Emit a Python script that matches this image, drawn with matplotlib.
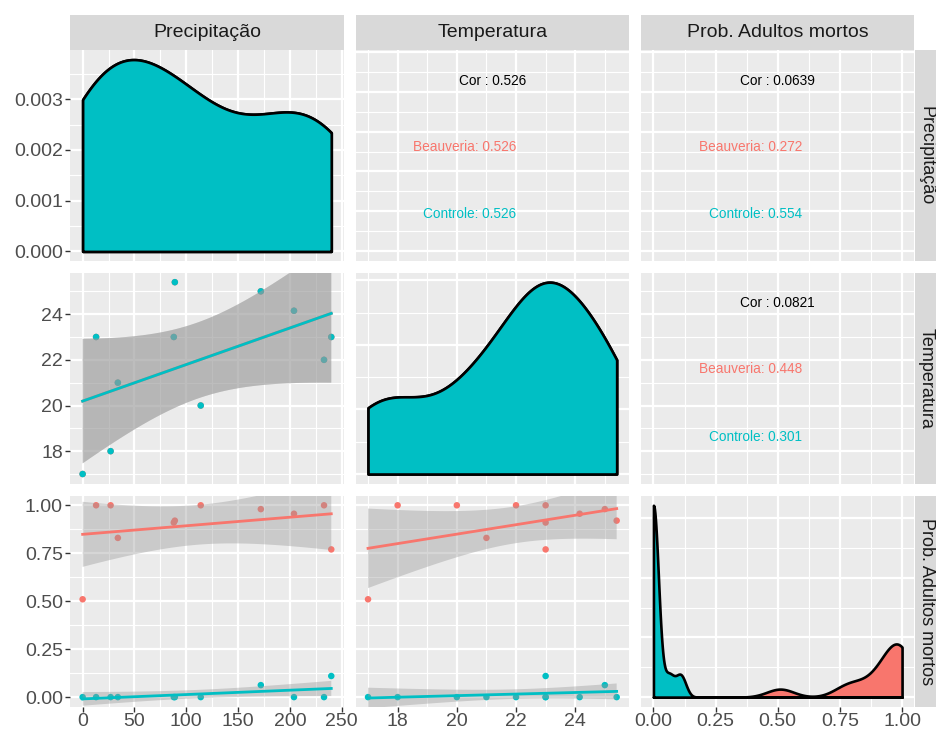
import numpy as np
import matplotlib
matplotlib.use("Agg")
import matplotlib.pyplot as plt
from matplotlib.patches import Rectangle
from matplotlib.ticker import MultipleLocator, MaxNLocator, AutoMinorLocator, FormatStrFormatter

plt.rcParams['font.family'] = ['Liberation Sans', 'DejaVu Sans']

# ---------------- data ----------------
precipitacao = [0, 13, 27, 34, 89, 88, 114, 172, 204, 233, 240]
temperatura = [17.0, 23.0, 18.0, 21.0, 25.4, 23.0, 20.0, 25.0, 24.15, 22.0, 23.0]
prob_beauveria = [0.51, 1.00, 1.00, 0.83, 0.92, 0.91, 1.00, 0.98, 0.956, 1.00, 0.77]
prob_controle = [0.0, 0.0, 0.0, 0.0, 0.0, 0.0, 0.0, 0.0625, 0.0, 0.0, 0.11]

grupos = ["Beauveria", "Controle"]
cores_grupos = ["#F8766D", "#00BFC4"]
variaveis = ["Precipitação", "Temperatura", "Prob. Adultos mortos"]

# correlation labels for upper panels: (row, col) pairs (0,1), (0,2), (1,2)
pares_cor = [(0, 1), (0, 2), (1, 2)]
cor_total = ["0.526", "0.0639", "0.0821"]
cor_beauveria = ["0.526", "0.272", "0.448"]
cor_controle = ["0.526", "0.554", "0.301"]

T95 = 2.2621571627409915  # qt(0.975, df=9)

# ---------------- helpers ----------------
dados = {
    "Beauveria": [precipitacao, temperatura, prob_beauveria],
    "Controle": [precipitacao, temperatura, prob_controle],
}


def var_range(v):
    allv = np.concatenate([np.asarray(dados[g][v], float) for g in grupos])
    return allv.min(), allv.max()


def kde(x, grid):
    x = np.asarray(x, float)
    n = len(x)
    sd = np.std(x, ddof=1)
    q75, q25 = np.percentile(x, [75, 25])
    lo = min(sd, (q75 - q25) / 1.34)
    if lo == 0:
        lo = sd
    bw = 0.9 * lo * n ** -0.2
    z = (grid[:, None] - x[None, :]) / bw
    return np.exp(-0.5 * z ** 2).sum(1) / (n * bw * np.sqrt(2 * np.pi))


def lm_band(x, y, xs):
    x = np.asarray(x, float)
    y = np.asarray(y, float)
    n = len(x)
    b, a = np.polyfit(x, y, 1)
    yhat = a + b * xs
    resid = y - (a + b * x)
    s = np.sqrt((resid ** 2).sum() / (n - 2))
    sxx = ((x - x.mean()) ** 2).sum()
    se = s * np.sqrt(1.0 / n + (xs - x.mean()) ** 2 / sxx)
    return yhat, yhat - T95 * se, yhat + T95 * se


def expand(lo, hi):
    d = (hi - lo) * 0.05
    return lo - d, hi + d


scale_major = [50, 2, 0.25]
scale_fmt = ['%d', '%d', '%.2f']

# ---------------- figure / layout ----------------
W, H = 937, 735
fig = plt.figure(figsize=(W / 100, H / 100), dpi=100)
fig.patch.set_facecolor('white')

col_left = [70.2, 355.6, 641.0]
col_w = 273.5
row_top = [50.0, 272.6, 495.7]
row_h = 211.0

BG = '#EBEBEB'
TICKC = '#333333'
LABC = '#4D4D4D'
FS = 14


def add_ax(r, c):
    l = col_left[c]
    t = row_top[r]
    ax = fig.add_axes([l / W, 1 - (t + row_h) / H, col_w / W, row_h / H])
    ax.set_facecolor(BG)
    for s in ax.spines.values():
        s.set_visible(False)
    ax.set_axisbelow(True)
    return ax


def style_grid(ax):
    ax.grid(which='major', color='white', lw=1.6)
    ax.grid(which='minor', color='white', lw=0.8)
    ax.tick_params(which='minor', length=0)


def set_xscale(ax, v):
    ax.set_xlim(*expand(*var_range(v)))
    ax.xaxis.set_major_locator(MultipleLocator(scale_major[v]))
    ax.xaxis.set_minor_locator(AutoMinorLocator(2))
    ax.xaxis.set_major_formatter(FormatStrFormatter(scale_fmt[v]))


def set_yscale(ax, v):
    ax.set_ylim(*expand(*var_range(v)))
    ax.yaxis.set_major_locator(MultipleLocator(scale_major[v]))
    ax.yaxis.set_minor_locator(AutoMinorLocator(2))
    ax.yaxis.set_major_formatter(FormatStrFormatter(scale_fmt[v]))


axes = {}
for r in range(3):
    for c in range(3):
        ax = add_ax(r, c)
        axes[(r, c)] = ax
        set_xscale(ax, c)
        if r == c:
            lo, hi = var_range(c)
            grid = np.linspace(lo, hi, 512)
            dens = [kde(dados[g][c], grid) for g in grupos]
            M = max(d.max() for d in dens)
            ax.set_ylim(-0.05 * M, 1.05 * M)
            if c == 0:
                ax.yaxis.set_major_locator(MultipleLocator(0.001))
                ax.yaxis.set_major_formatter(FormatStrFormatter('%.3f'))
            else:
                ax.yaxis.set_major_locator(MaxNLocator(nbins=5, steps=[1, 2, 2.5, 5, 10]))
            ax.yaxis.set_minor_locator(AutoMinorLocator(2))
            for g, col, d in zip(grupos, cores_grupos, dens):
                ax.fill_between(grid, 0, d, facecolor=col, edgecolor='black',
                                lw=1.9, zorder=3)
        else:
            set_yscale(ax, r)
            if r > c:
                # points first
                for g, col in zip(grupos, cores_grupos):
                    ax.scatter(dados[g][c], dados[g][r], s=22, color=col,
                               edgecolors='none', zorder=3)
                for g, col in zip(grupos, cores_grupos):
                    x = np.asarray(dados[g][c], float)
                    xs = np.linspace(x.min(), x.max(), 80)
                    yh, ylo, yhi = lm_band(x, dados[g][r], xs)
                    ax.fill_between(xs, ylo, yhi, facecolor='#999999', alpha=0.4,
                                    edgecolor='none', zorder=4)
                    ax.plot(xs, yh, color=col, lw=2.0, zorder=5)
            else:
                k = pares_cor.index((r, c))
                ax.text(0.5, 1 - 0.145, "Cor : " + cor_total[k], transform=ax.transAxes,
                        ha='center', va='center', fontsize=9.8, color='black')
                ax.text(0.588, 1 - 0.458, grupos[0] + ": " + cor_beauveria[k],
                        transform=ax.transAxes, ha='right', va='center',
                        fontsize=9.8, color=cores_grupos[0])
                ax.text(0.588, 1 - 0.777, grupos[1] + ": " + cor_controle[k],
                        transform=ax.transAxes, ha='right', va='center',
                        fontsize=9.8, color=cores_grupos[1])
        style_grid(ax)
        ax.tick_params(which='major', left=(c == 0), labelleft=(c == 0),
                       bottom=(r == 2), labelbottom=(r == 2),
                       length=3.3, width=1.0, color=TICKC, labelcolor=LABC,
                       labelsize=FS)
        ax.tick_params(axis='y', pad=2)
        ax.tick_params(axis='x', pad=1)

# ---------------- strips ----------------
STRIP = '#D9D9D9'
for c in range(3):
    fig.patches.append(Rectangle((col_left[c] / W, 1 - 50 / H), col_w / W, 35 / H,
                                 transform=fig.transFigure, facecolor=STRIP,
                                 edgecolor='none'))
    fig.text((col_left[c] + col_w / 2) / W, 1 - 32.5 / H, variaveis[c],
             ha='center', va='center', fontsize=FS, color='#1A1A1A')
for r in range(3):
    fig.patches.append(Rectangle((915.5 / W, 1 - (row_top[r] + row_h) / H), 40 / W,
                                 row_h / H, transform=fig.transFigure,
                                 facecolor=STRIP, edgecolor='none'))
    fig.text(926.5 / W, 1 - (row_top[r] + row_h / 2) / H, variaveis[r],
             ha='center', va='center', rotation=270, fontsize=13, color='#1A1A1A')

fig.savefig('out.png', dpi=100)
